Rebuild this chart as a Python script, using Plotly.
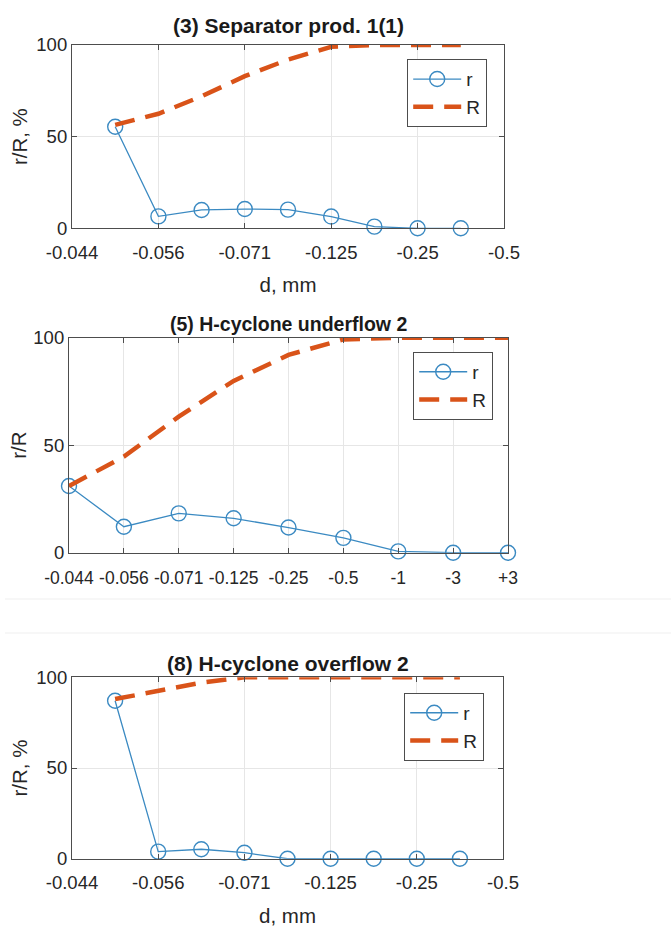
import plotly.graph_objects as go

W, H = 671, 928

# ---------------- data ----------------
# panel 1 : (3) Separator prod. 1(1)
p1_title = "(3) Separator prod. 1(1)"
p1_x = [1, 2, 3, 4, 5, 6, 7, 8, 9]
p1_r = [55.4, 6.5, 10.0, 10.5, 10.2, 6.4, 0.9, 0.0, 0.0]
p1_R = [56.4, 62.5, 72.0, 83.0, 92.0, 99.0, 100.0, 100.0, 100.0]
p1_tickvals = [0, 2, 4, 6, 8, 10]
p1_ticktext = ["-0.044", "-0.056", "-0.071", "-0.125", "-0.25", "-0.5"]

# panel 2 : (5) H-cyclone underflow 2
p2_title = "(5) H-cyclone underflow 2"
p2_x = [1, 2, 3, 4, 5, 6, 7, 8, 9]
p2_r = [31.0, 12.1, 18.3, 16.0, 11.7, 6.9, 0.6, 0.0, 0.0]
p2_R = [31.0, 44.7, 63.3, 79.9, 92.0, 99.2, 100.0, 100.0, 100.0]
p2_tickvals = [1, 2, 3, 4, 5, 6, 7, 8, 9]
p2_ticktext = ["-0.044", "-0.056", "-0.071", "-0.125", "-0.25", "-0.5", "-1", "-3", "+3"]

# panel 3 : (8) H-cyclone overflow 2
p3_title = "(8) H-cyclone overflow 2"
p3_x = [1, 2, 3, 4, 5, 6, 7, 8, 9]
p3_r = [87.1, 3.9, 5.2, 3.3, 0.0, 0.0, 0.0, 0.0, 0.0]
p3_R = [88.0, 92.5, 97.0, 100.0, 100.0, 100.0, 100.0, 100.0, 100.0]
p3_tickvals = [0, 2, 4, 6, 8, 10]
p3_ticktext = ["-0.044", "-0.056", "-0.071", "-0.125", "-0.25", "-0.5"]

y_tickvals = [0, 50, 100]

# ---------------- style ----------------
BLUE = "#3b8ac2"
ORANGE = "#D95319"
TXT = "#262626"
AX = "#4d4d4d"
GRID = "#e6e6e6"
FONT = "Liberation Sans, Arial, sans-serif"


def px(x):
    return x / W


def py(y):
    return 1 - y / H


panels = [
    dict(title=p1_title, x=p1_x, r=p1_r, R=p1_R, tv=p1_tickvals, tt=p1_ticktext,
         xr=[0, 10], box=(72, 504, 45, 228.3), ytitle="r/R, %", xtitle="d, mm",
         tfs=21, title_y=25, leg=(487, 59), tickfs=18.5, xstand=16, ystand=3, tls=7),
    dict(title=p2_title, x=p2_x, r=p2_r, R=p2_R, tv=p2_tickvals, tt=p2_ticktext,
         xr=[1, 9], box=(69, 508, 337.7, 552.7), ytitle="r/R", xtitle=None,
         tfs=19.5, title_y=324, leg=(493, 351.7), tickfs=17.5, xstand=10, ystand=1, tls=9),
    dict(title=p3_title, x=p3_x, r=p3_r, R=p3_R, tv=p3_tickvals, tt=p3_ticktext,
         xr=[0, 10], box=(72, 503, 677.3, 858.7), ytitle="r/R, %", xtitle="d, mm",
         tfs=21, title_y=663, leg=(484, 692.7), tickfs=18.5, xstand=16, ystand=3, tls=7),
]

fig = go.Figure()
layout = dict(
    width=W, height=H,
    margin=dict(l=0, r=0, t=0, b=0),
    paper_bgcolor="white", plot_bgcolor="white",
    font=dict(family=FONT, color=TXT, size=18),
    annotations=[], shapes=[],
)

for i, p in enumerate(panels, start=1):
    sfx = "" if i == 1 else str(i)
    leg = "legend" if i == 1 else f"legend{i}"
    x0, x1, y0, y1 = p["box"]
    fig.add_trace(go.Scatter(
        x=p["x"], y=p["r"], name="r", mode="lines+markers",
        line=dict(color=BLUE, width=1.3),
        marker=dict(symbol="circle-open", size=15, color=BLUE, line=dict(width=1.4)),
        xaxis="x" + sfx, yaxis="y" + sfx, legend=leg, cliponaxis=False,
    ))
    fig.add_trace(go.Scatter(
        x=p["x"], y=p["R"], name="R", mode="lines",
        line=dict(color=ORANGE, width=4.5, dash="20px,11px"),
        xaxis="x" + sfx, yaxis="y" + sfx, legend=leg, cliponaxis=False,
    ))
    layout["xaxis" + sfx] = dict(
        domain=[px(x0), px(x1)], anchor="y" + sfx, range=p["xr"],
        tickmode="array", tickvals=p["tv"], ticktext=p["tt"], tickangle=0,
        showgrid=True, gridcolor=GRID, gridwidth=1, zeroline=False,
        showline=True, linecolor=AX, linewidth=1.2, mirror="ticks",
        ticks="inside", ticklen=5, tickcolor=AX, automargin=False,
        ticklabelstandoff=p["tls"],
        tickfont=dict(size=p["tickfs"], color=TXT),
        title=dict(text=p["xtitle"], font=dict(size=20.5, color=TXT), standoff=p["xstand"]) if p["xtitle"] else None,
    )
    layout["yaxis" + sfx] = dict(
        domain=[py(y1), py(y0)], anchor="x" + sfx, range=[0, 100],
        tickmode="array", tickvals=y_tickvals,
        showgrid=True, gridcolor=GRID, gridwidth=1, zeroline=False,
        showline=True, linecolor=AX, linewidth=1.2, mirror="ticks",
        ticks="inside", ticklen=5, tickcolor=AX, automargin=False,
        tickfont=dict(size=18.5, color=TXT),
        title=dict(text=p["ytitle"], font=dict(size=20.5, color=TXT), standoff=p["ystand"]),
    )
    layout[leg] = dict(
        x=px(p["leg"][0]), y=py(p["leg"][1]), xanchor="right", yanchor="top",
        xref="paper", yref="paper",
        bgcolor="white", bordercolor=AX, borderwidth=1.2,
        font=dict(size=19, color=TXT), itemwidth=48, tracegroupgap=0,
    )
    layout["annotations"].append(dict(
        text="<b>" + p["title"] + "</b>", x=px((x0 + x1) / 2), y=py(p["title_y"]),
        xref="paper", yref="paper", xanchor="center", yanchor="middle",
        showarrow=False, font=dict(size=p["tfs"], color="#1a1a1a"),
    ))

# faint separators between the stacked images
for yy in (599, 633):
    layout["shapes"].append(dict(type="line", xref="paper", yref="paper",
                                 x0=px(5), x1=1, y0=py(yy), y1=py(yy),
                                 line=dict(color="#efefef", width=1)))

fig.update_layout(**layout)
fig.write_html("out.html")
